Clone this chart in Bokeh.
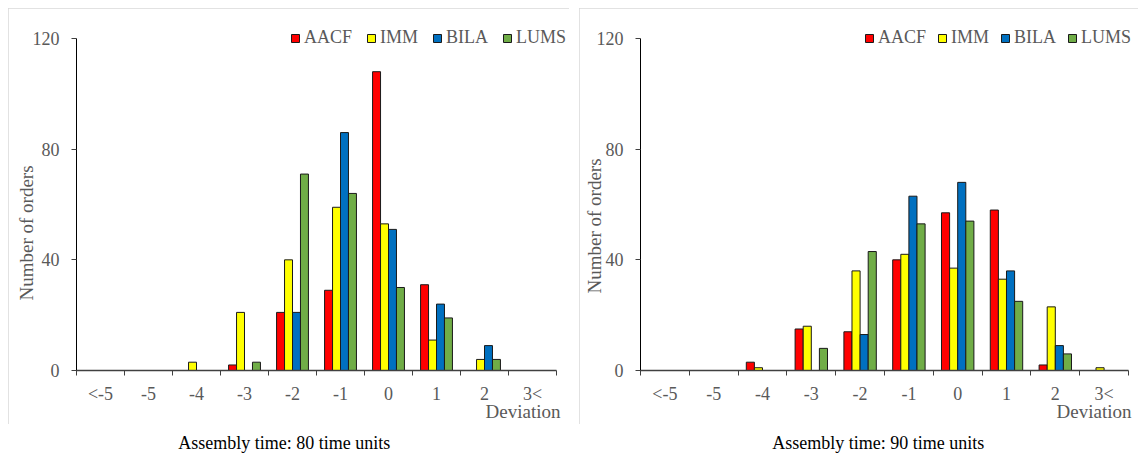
import math
from bokeh.plotting import figure
from bokeh.models import ColumnDataSource, Range1d, FixedTicker, Legend, LegendItem, Title
from bokeh.layouts import row, column
from bokeh.transform import dodge
from bokeh.embed import file_html
from bokeh.resources import INLINE
from bokeh.core.properties import value

categories = ["<-5", "-5", "-4", "-3", "-2", "-1", "0", "1", "2", "3<"]
series_names = ["AACF", "IMM", "BILA", "LUMS"]
series_colors = ["#FF0000", "#FFFF00", "#0070C0", "#70AD47"]

# Assembly time 80
aacf_80 = [0, 0, 0, 2, 21, 29, 108, 31, 0, 0]
imm_80 = [0, 0, 3, 21, 40, 59, 53, 11, 4, 0]
bila_80 = [0, 0, 0, 0, 21, 86, 51, 24, 9, 0]
lums_80 = [0, 0, 0, 3, 71, 64, 30, 19, 4, 0]

# Assembly time 90
aacf_90 = [0, 0, 3, 15, 14, 40, 57, 58, 2, 0]
imm_90 = [0, 0, 1, 16, 36, 42, 37, 33, 23, 1]
bila_90 = [0, 0, 0, 0, 13, 63, 68, 36, 9, 0]
lums_90 = [0, 0, 0, 8, 43, 53, 54, 25, 6, 0]

y_ticks = [0, 40, 80, 120]
caption_80 = "Assembly time: 80 time units"
caption_90 = "Assembly time: 90 time units"

FONT = "Times New Roman"
GREY = "#595959"
BAR_W = 0.166


def make_panel(series, caption, W, ml, x_end, ylab_off, ylab_standoff, dev_off,
               leg_loc, leg_spacing, cap_x):
    p = figure(width=W, height=416, x_range=Range1d(-0.5, x_end), y_range=Range1d(0, 125.06),
               output_backend="svg", toolbar_location=None,
               min_border_left=ml, min_border_right=2, min_border_top=16, min_border_bottom=54)
    p.xgrid.visible = False
    p.ygrid.visible = False
    p.outline_line_color = None
    p.background_fill_color = "white"
    p.border_fill_color = "white"
    p.styles = {"outline": "1px solid #d9d9d9", "outline-offset": "-1px"}

    items = []
    for j, (name, vals) in enumerate(zip(series_names, series)):
        idx = [i for i, v in enumerate(vals) if v > 0]
        src = ColumnDataSource(dict(x=idx, top=[vals[i] for i in idx]))
        r = p.vbar(x=dodge("x", (j - 1.5) * BAR_W, range=p.x_range), top="top", bottom=0,
                   width=BAR_W, source=src, fill_color=series_colors[j],
                   line_color="#1a1a1a", line_width=1)
        items.append(LegendItem(label=name, renderers=[r]))

    leg = Legend(items=items, orientation="horizontal", location=leg_loc, padding=0, margin=0,
                 spacing=leg_spacing, glyph_width=10, glyph_height=10, label_standoff=4,
                 label_text_font=FONT, label_text_font_size="18px", label_text_color=GREY,
                 label_height=18, background_fill_alpha=0, border_line_alpha=0)
    p.add_layout(leg)

    xa = p.xaxis[0]
    xa.ticker = FixedTicker(ticks=list(range(len(categories))),
                            minor_ticks=[i - 0.5 for i in range(len(categories) + 1)])
    xa.bounds = (-0.5, 9.5)
    xa.major_label_overrides = {i: c for i, c in enumerate(categories)}
    xa.major_tick_line_color = None
    xa.minor_tick_out = 5
    xa.minor_tick_in = 0
    xa.minor_tick_line_color = "#404040"
    xa.axis_line_color = "#404040"
    xa.axis_line_width = 1.5
    xa.major_label_standoff = 7
    xa.major_label_text_font = FONT
    xa.major_label_text_font_size = "18px"
    xa.major_label_text_color = GREY

    ya = p.yaxis[0]
    ya.ticker = FixedTicker(ticks=y_ticks)
    ya.bounds = (0, 120)
    ya.axis_line_color = "black"
    ya.major_tick_line_color = "#404040"
    ya.major_tick_out = 5
    ya.major_tick_in = 0
    ya.minor_tick_line_color = None
    ya.major_label_standoff = 12
    ya.major_label_text_font = FONT
    ya.major_label_text_font_size = "18px"
    ya.major_label_text_color = GREY

    p.add_layout(Title(text="Number of orders", align="left", offset=ylab_off,
                       standoff=ylab_standoff, text_font=FONT, text_font_size="19px",
                       text_color=GREY, text_font_style="normal"), "left")
    p.add_layout(Title(text="Deviation", align="right", offset=dev_off, standoff=-15,
                       text_font=FONT, text_font_size="19px", text_color=GREY,
                       text_font_style="normal"), "below")

    c = figure(width=W, height=30, x_range=p.x_range, y_range=Range1d(0, 1),
               output_backend="svg", toolbar_location=None, min_border=0,
               min_border_left=0, min_border_right=0, min_border_top=0, min_border_bottom=0,
               x_axis_type=None, y_axis_type=None)
    c.outline_line_color = None
    c.xgrid.visible = False
    c.ygrid.visible = False
    c.text(x=[cap_x], y=[0.367], text=[caption], text_align="center", text_baseline="middle",
           text_font=value(FONT), text_font_size=value("18px"), text_color="black")
    return column(p, c, spacing=0)


left = make_panel([aacf_80, imm_80, bila_80, lums_80], caption_80, 561, 68, 9.729,
                  70, -14, 7, (214, 322), 14, 3.83)
right = make_panel([aacf_90, imm_90, bila_90, lums_90], caption_90, 559, 61, 9.664,
                   77, -23, 5, (224, 322), 11, 4.37)

layout = row(left, right, spacing=10, margin=(8, 0, 0, 8))
open("out.html", "w").write(file_html(layout, INLINE))
